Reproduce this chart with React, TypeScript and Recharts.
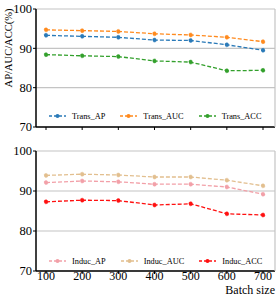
import React from "react";
import { LineChart, Line, XAxis, YAxis, CartesianGrid, Legend } from "recharts";

const batchSizes = [100, 200, 300, 400, 500, 600, 700];

const transAP = [93.3, 93.05, 92.8, 92.1, 92.0, 90.9, 89.5];
const transAUC = [94.7, 94.5, 94.3, 93.7, 93.4, 92.8, 91.7];
const transACC = [88.4, 88.1, 87.9, 86.8, 86.5, 84.3, 84.4];

const inducAP = [92.1, 92.5, 92.3, 91.7, 91.7, 91.0, 89.2];
const inducAUC = [93.9, 94.2, 94.0, 93.5, 93.5, 92.7, 91.3];
const inducACC = [87.3, 87.7, 87.6, 86.5, 86.8, 84.3, 84.0];

const yTicks = [70, 80, 90, 100];

const transData = batchSizes.map((b, i) => ({
  batch: b,
  Trans_AP: transAP[i],
  Trans_AUC: transAUC[i],
  Trans_ACC: transACC[i],
}));

const inducData = batchSizes.map((b, i) => ({
  batch: b,
  Induc_AP: inducAP[i],
  Induc_AUC: inducAUC[i],
  Induc_ACC: inducACC[i],
}));

const FONT = '"Liberation Serif", "Times New Roman", serif';

const LegendRow = (props: any) => {
  const order: string[] = props.order || [];
  const payload = [...(props.payload || [])].sort(
    (a: any, b: any) => order.indexOf(a.value) - order.indexOf(b.value)
  );
  return (
    <div
      style={{
        display: "flex",
        alignItems: "center",
        paddingLeft: 49,
        fontFamily: FONT,
        fontSize: 8.3,
        color: "#000",
        height: 12,
      }}
    >
      {payload.map((p: any) => (
        <div key={p.value} style={{ display: "flex", alignItems: "center", marginRight: 15 }}>
          <svg width={17} height={6}>
            <line x1={0} y1={3} x2={17} y2={3} stroke={p.color} strokeWidth={1.3} strokeDasharray="3 2" />
            <circle cx={8.5} cy={3} r={2} fill={p.color} />
          </svg>
          <span style={{ marginLeft: 6 }}>{p.value}</span>
        </div>
      ))}
    </div>
  );
};

const tickStyle = { fill: "#000", fontSize: 12.5, fontFamily: FONT };
const xTickStyle = { fill: "#000", fontSize: 12, fontFamily: FONT };

function Panel({
  data,
  keys,
  colors,
  height,
  top,
  xHeight,
  showX,
  legendTop,
}: {
  data: any[];
  keys: string[];
  colors: string[];
  height: number;
  top: number;
  xHeight: number;
  showX: boolean;
  legendTop: number;
}) {
  return (
    <LineChart width={277} height={height} data={data} margin={{ top, right: 0, bottom: 0, left: 0 }}>
      <CartesianGrid vertical={false} stroke="#c4c4c4" strokeWidth={1.2} />
      <XAxis
        dataKey="batch"
        height={xHeight}
        padding={{ left: 10, right: 12 }}
        tickSize={3}
        tickMargin={-3}
        tick={xTickStyle}
        tickFormatter={showX ? undefined : () => ""}
        axisLine={{ stroke: "#000", strokeWidth: 1.5 }}
        tickLine={{ stroke: "#000" }}
        label={
          showX
            ? { value: "Batch size", position: "insideBottomRight", offset: 0, dy: -6, fill: "#000", fontSize: 12, fontFamily: FONT }
            : undefined
        }
      />
      <YAxis
        width={36}
        domain={[70, 100]}
        ticks={yTicks}
        tickSize={3}
        tickMargin={1}
        tick={tickStyle}
        axisLine={{ stroke: "#000", strokeWidth: 1.5 }}
        tickLine={{ stroke: "#000" }}
        label={
          showX
            ? undefined
            : {
                value: "AP/AUC/ACC(%)",
                angle: -90,
                position: "center",
                dx: -10,
                dy: -20,
                fill: "#000",
                fontSize: 10.5,
                fontFamily: FONT,
              }
        }
      />
      <YAxis
        yAxisId="r"
        orientation="right"
        width={2}
        domain={[70, 100]}
        tick={false}
        tickLine={false}
        axisLine={{ stroke: "#c4c4c4", strokeWidth: 1.2 }}
      />
      <Legend
        verticalAlign="middle"
        wrapperStyle={{ top: legendTop, left: 0, width: 277 }}
        content={<LegendRow order={keys} />}
      />
      {keys.map((k, i) => (
        <Line
          key={k}
          dataKey={k}
          stroke={colors[i]}
          strokeWidth={1.3}
          strokeDasharray="4 2"
          dot={{ r: 2, fill: colors[i], stroke: colors[i], strokeWidth: 0.5 }}
          isAnimationActive={false}
        />
      ))}
    </LineChart>
  );
}

export default function App() {
  return (
    <div style={{ position: "absolute", left: 0, top: 0, width: 277, height: 300, background: "#fff" }}>
      <div style={{ position: "absolute", left: 0, top: 0 }}>
        <Panel
          data={transData}
          keys={["Trans_AP", "Trans_AUC", "Trans_ACC"]}
          colors={["#2a7ab8", "#ff8a1e", "#33a02c"]}
          height={140}
          top={9}
          xHeight={13}
          showX={false}
          legendTop={110}
        />
      </div>
      <div style={{ position: "absolute", left: 0, top: 140 }}>
        <Panel
          data={inducData}
          keys={["Induc_AP", "Induc_AUC", "Induc_ACC"]}
          colors={["#f2a0a8", "#e2bf8f", "#ff1010"]}
          height={160}
          top={11}
          xHeight={29}
          showX={true}
          legendTop={115}
        />
      </div>
    </div>
  );
}
